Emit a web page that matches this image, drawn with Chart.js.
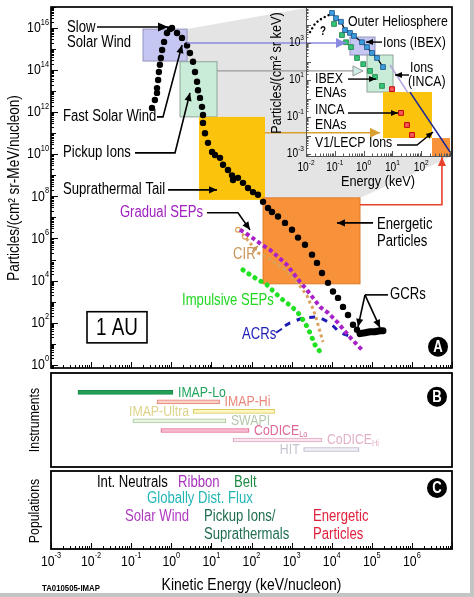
<!DOCTYPE html>
<html>
<head>
<meta charset="utf-8">
<script src="https://cdn.jsdelivr.net/npm/chart.js@4.4.0/dist/chart.umd.min.js"></script>
<style>
  html, body { margin: 0; padding: 0; background: #fff; }
  #wrap { position: relative; width: 474px; height: 597px; background: #fff; overflow: hidden; }
  #wrap canvas { position: absolute; left: 0; top: 0; }
  .edgeR { position: absolute; right: 0; top: 0; width: 4px; height: 597px; background: #c4c4c4; }
  .edgeB { position: absolute; left: 0; bottom: 0; width: 474px; height: 4px; background: #c4c4c4; }
</style>
</head>
<body>
<div id="wrap">
  <canvas id="cA" width="474" height="597"></canvas>
  <canvas id="cI" width="474" height="597"></canvas>
  <canvas id="cB" width="474" height="597"></canvas>
  <canvas id="cC" width="474" height="597"></canvas>
  <div class="edgeR"></div><div class="edgeB"></div>
</div>
<script>
// Tick labels (powers of ten)
const xTickExp = [-3, -2, -1, 0, 1, 2, 3, 4, 5, 6];
const yTickExp = [0, 2, 4, 6, 8, 10, 12, 14, 16];
const insetXTickExp = [-2, -1, 0, 1, 2];
const insetYTickExp = [-3, -1, 1, 3];

// Panel A: spectra at 1 AU, keV/nucleon vs particles/(cm2 sr MeV/nucleon)
const mainEnergy = [0.33, 0.39, 0.44, 0.44, 0.47, 0.49, 0.52, 0.55, 0.59, 0.66, 0.78, 0.93, 1.04,
  1.39, 1.85, 2.47, 2.92, 3.48, 3.90, 4.38, 4.63, 5.20, 5.83, 6.18, 6.18, 6.92, 8.22, 10.4, 12.3,
  16.4, 19.5, 25.9, 32.7, 34.6, 46.0, 61.4, 81.8, 109, 145, 194, 258, 324, 458, 684, 1023, 1445,
  2158, 3228, 4295, 5728, 8091, 10770, 14350, 19140, 25470, 33960, 42760];
const mainFlux = [1.6e12, 3.8e12, 8.3e12, 1.4e13, 3.4e13, 8.1e13, 1.8e14, 3.8e14, 9.1e14, 2.2e15, 5.8e15, 8.9e15, 1.0e16,
  5.8e15, 3.4e15, 1.5e15, 6.5e14, 2.5e14, 8.1e13, 2.8e13, 1.1e13, 4.8e12, 1.8e12, 7.4e11, 3.1e11, 1.0e11, 3.5e10, 1.3e10, 9.3e9,
  6.8e9, 3.2e9, 1.8e9, 1.0e9, 6.0e8, 7.6e8, 4.4e8, 2.5e8, 1.6e8, 1.2e8, 5.5e7, 2.8e7, 1.8e7, 1.1e7, 5.5e6, 2.6e6, 1.1e6,
  5.0e5, 1.7e5, 6.9e4, 2.3e4, 7.8e3, 3.0e3, 1.5e3, 560, 230, 79, 46];
const gcrEnergy = [50800, 67600, 90200, 120000, 160000, 190000];
const gcrFlux = [30, 33, 37, 37, 41, 41];
const gradualEnergy = [51.6, 81.8, 122, 183, 289, 458, 767, 1084, 1618, 2421, 3420, 5105, 8091, 14350, 25470, 42760, 57020];
const gradualFlux = [2.6e6, 1.5e6, 8.7e5, 5.0e5, 2.9e5, 1.35e5, 5.6e4, 2.3e4, 8.7e3, 3.6e3, 1.5e3, 560, 295, 98, 26, 8.9, 5.1];
const cirEnergy = [46.0, 68.9, 145, 258, 458, 813, 1216, 1816, 2421, 2877, 3420, 4295, 5105, 6067];
const cirFlux = [2.6e6, 1.2e6, 2.1e5, 1.2e5, 5.6e4, 2.6e4, 1.1e4, 4.1e3, 1.9e3, 870, 460, 123, 37, 12];
const impulsiveEnergy = [61.4, 91.8, 145, 243, 385, 611, 1023, 1445, 2158, 2877, 3828, 5105];
const impulsiveFlux = [3.2e4, 1.9e4, 1.1e4, 6.3e3, 2.6e3, 1.2e3, 560, 295, 98, 33, 8.9, 4.2];
const acrEnergy = [684, 912, 1923, 4550, 9080, 16100, 32060];
const acrFlux = [71, 98, 170, 190, 98, 33, 21];
// slow wind, fast wind, pickup/suprathermal, energetic particles
const mainBoxEnergy = [[0.197, 2.47], [1.65, 13.8], [4.9, 217], [194, 50800]];
const mainBoxFlux = [[2.7e14, 8.9e15], [6e11, 2.5e14], [6.8e7, 6e11], [7e3, 8.5e7]];

// Inset: outer heliosphere, keV vs particles/(cm2 sr keV)
const ibexIonEnergy = [0.080, 0.110, 0.164, 0.226, 0.337, 0.464, 0.88, 1.31, 1.96, 2.92, 4.72];
const ibexIonFlux = [4.2e4, 2.2e4, 1.4e4, 5.0e3, 3.5e3, 2.4e3, 1.1e3, 600, 290, 155, 50];
const unknownEnergy = [0.0138, 0.019, 0.028, 0.046, 0.074];
const unknownFlux = [3.9e3, 9.3e3, 1.7e4, 2.6e4, 3.7e4];
const ibexEnaEnergy = [0.094, 0.178, 0.245, 0.365, 0.59, 0.97, 1.67, 2.49, 4.35];
const ibexEnaFlux = [1.07e4, 2.7e3, 1.1e3, 600, 155, 72, 31, 14.5, 4.8];
const incaEnaEnergy = [9.7, 19.9, 32.1, 48];
const incaEnaFlux = [3.2, 0.166, 0.037, 0.0107];
const incaIonEnergy = [8.3, 34.8];
const incaIonFlux = [65, 2.0];
const lecpEnergy = [40.8, 1000];
const lecpFlux = [2.2, 0.0013];
const insetBoxEnergy = [[0.337, 2.49], [1.31, 10.5], [4.72, 237], [237, 1000]];
const insetBoxFlux = [[224, 2.1e3], [2.24, 224], [0.0073, 2.24], [7.8e-4, 0.0073]];

// Panel B: instrument energy ranges (keV)
const instNames = ['IMAP-Lo', 'IMAP-Hi', 'IMAP-Ultra', 'SWAPI', 'CoDICE', 'CoDICE', 'HIT'];
const instSub = ['', '', '', '', 'Lo', 'Hi', ''];
const instLow = [0.0047, 0.44, 3.5, 0.11, 0.55, 35, 2000];
const instHigh = [1.1, 16, 385, 23, 87, 5700, 48000];

// Panel C: populations, placed by energy
const popNames = ['Int. Neutrals', 'Ribbon', 'Belt', 'Globally Dist. Flux', 'Solar Wind', 'Pickup Ions/', 'Suprathermals', 'Energetic', 'Particles'];
const popEnergy = [0.014, 1.47, 36.6, 0.248, 0.070, 6.53, 6.53, 3420, 3420];
const popRow = [0.77, 0.77, 0.77, 1.79, 2.95, 2.95, 4.10, 2.95, 4.10];

// Styles
const mainBoxFill = ['#c6c6f3', '#c9ecd9', '#fcc30c', '#f7923b'];
const mainBoxEdge = ['#9494bc', '#8fa398', null, '#e07a28'];
const instFill = ['#21a056', '#fbd0c8', '#fff7c0', '#e9f5e2', '#f8bcd2', '#fbe6ef', '#f1f0f5'];
const instEdge = ['#1a8a48', '#e2806f', '#d9c95e', '#a9c79a', '#e0608c', '#e0a9c2', '#b6afc8'];
const instText = ['#22a35c', '#e8867a', '#ddd38a', '#b4c8ac', '#e0689a', '#e2b0c8', '#c6c4d0'];
const instSide = ['r', 'r', 'l', 'r', 'r', 'r', 'l'];
const popColor = ['#000', '#a832bc', '#1f8a45', '#22b6b4', '#b03cc0', '#1f6e50', '#1f6e50', '#e0203c', '#e0203c'];

// Plot rectangles on the 474x597 page
const AREA_A = { left: 51, top: 7, right: 452, bottom: 368 };
const AREA_I = { left: 306, top: 8, right: 450, bottom: 156 };
const AREA_B = { left: 51, top: 373, right: 452, bottom: 467 };
const AREA_C = { left: 51, top: 471, right: 452, bottom: 549 };

const L = v => Math.pow(10, v);
const pairs = (xs, ys) => xs.map((x, i) => ({ x, y: ys[i] }));

// Condensed font: use the narrow face if installed, else squeeze the regular one
function fontExists(name) {
  const c = document.createElement('canvas').getContext('2d');
  const s = 'Particles/(cm sr-MeV) WWmm';
  c.font = '40px monospace';
  const a = c.measureText(s).width;
  c.font = '40px "' + name + '", monospace';
  return Math.abs(c.measureText(s).width - a) > 1;
}
const NARROW = fontExists('Liberation Sans Narrow');
const FAM = NARROW ? '"Liberation Sans Narrow", sans-serif' : '"Liberation Sans", Arial, sans-serif';
const SQ = NARROW ? 1 : 0.82;

function setFont(ctx, size, bold) { ctx.font = (bold ? 'bold ' : '') + size + 'px ' + FAM; }
function textW(ctx, s, size, bold) { setFont(ctx, size, bold); return ctx.measureText(s).width * SQ; }
function text(ctx, s, x, y, o = {}) {
  ctx.save();
  ctx.translate(x, y);
  if (o.rot) ctx.rotate(o.rot);
  ctx.scale(SQ, 1);
  setFont(ctx, o.size || 16, o.bold);
  ctx.fillStyle = o.color || '#000';
  ctx.textAlign = o.align || 'left';
  ctx.textBaseline = 'middle';
  ctx.fillText(s, 0, 0);
  ctx.restore();
}
function pow10(ctx, e, x, y, size, align) {
  const es = Math.round(size * 0.6), s = String(e);
  const wb = textW(ctx, '10', size), we = textW(ctx, s, es);
  let x0 = x;
  if (align === 'right') x0 = x - wb - we;
  if (align === 'center') x0 = x - (wb + we) / 2;
  text(ctx, '10', x0, y, { size });
  text(ctx, s, x0 + wb, y - size * 0.4, { size: es });
}
function arrow(ctx, pts, o = {}) {
  ctx.save();
  ctx.strokeStyle = o.color || '#000';
  ctx.fillStyle = o.color || '#000';
  ctx.lineWidth = o.width || 1.6;
  ctx.beginPath();
  pts.forEach((p, i) => i ? ctx.lineTo(p[0], p[1]) : ctx.moveTo(p[0], p[1]));
  ctx.stroke();
  if (o.head !== false) {
    const [x1, y1] = pts[pts.length - 2], [x2, y2] = pts[pts.length - 1];
    const a = Math.atan2(y2 - y1, x2 - x1), h = o.len || 8, w = o.hw || 3.6;
    ctx.beginPath();
    ctx.moveTo(x2, y2);
    ctx.lineTo(x2 - h * Math.cos(a) + w * Math.sin(a), y2 - h * Math.sin(a) - w * Math.cos(a));
    ctx.lineTo(x2 - h * Math.cos(a) - w * Math.sin(a), y2 - h * Math.sin(a) + w * Math.cos(a));
    ctx.closePath();
    if (o.fill) { ctx.fillStyle = o.fill; ctx.lineWidth = 1; ctx.fill(); ctx.stroke(); } else ctx.fill();
  }
  ctx.restore();
}
function logTicks(min, max) {
  const out = [];
  for (let e = Math.floor(Math.log10(min)); e <= Math.ceil(Math.log10(max)); e++) {
    for (let k = 1; k < 10; k++) {
      const v = k * Math.pow(10, e);
      if (v >= min * 0.999 && v <= max * 1.001) out.push({ v, major: k === 1, e });
    }
  }
  return out;
}
function frame(ctx, a, w) {
  ctx.save();
  ctx.strokeStyle = '#000';
  ctx.lineWidth = w || 1.7;
  ctx.strokeRect(a.left, a.top, a.right - a.left, a.bottom - a.top);
  ctx.restore();
}
function badge(ctx, x, y, ch) {
  ctx.save();
  ctx.beginPath();
  ctx.arc(x, y, 10, 0, 2 * Math.PI);
  ctx.fillStyle = '#000';
  ctx.fill();
  ctx.restore();
  text(ctx, ch, x, y + 1, { size: 16, bold: true, color: '#fff', align: 'center' });
}
function bottomTicks(ctx, chart, y) {
  const sx = chart.scales.x;
  ctx.save();
  ctx.strokeStyle = '#000';
  ctx.lineWidth = 1;
  logTicks(sx.min, sx.max).forEach(t => {
    const x = Math.round(sx.getPixelForValue(t.v)) + 0.5;
    ctx.beginPath(); ctx.moveTo(x, y); ctx.lineTo(x, y - (t.major ? 6 : 3)); ctx.stroke();
  });
  ctx.restore();
}
function options(area, xs, ys, extra) {
  return Object.assign({
    responsive: false,
    animation: false,
    devicePixelRatio: 1,
    events: [],
    layout: { padding: { left: area.left, top: area.top, right: 474 - area.right, bottom: 597 - area.bottom } },
    plugins: { legend: { display: false }, tooltip: { enabled: false }, colors: { enabled: false } },
    scales: { x: Object.assign({ display: false }, xs), y: Object.assign({ display: false }, ys) }
  }, extra || {});
}

// Annotation text and arrows of panel A, in log10 (energy, flux)
const mainLabels = [
  { t: 'Slow', p: [-2.601, 16.0] },
  { t: 'Solar Wind', p: [-2.601, 15.29] },
  { t: 'Fast Solar Wind', p: [-2.701, 11.78] },
  { t: 'Pickup Ions', p: [-2.701, 10.07] },
  { t: 'Suprathermal Tail', p: [-2.701, 8.31] },
  { t: 'Gradual SEPs', p: [0.791, 7.22], c: '#a020c0', al: 'right' },
  { t: 'CIR', p: [1.539, 5.22], c: '#c8965a' },
  { t: 'Impulsive SEPs', p: [0.267, 3.04], c: '#22d822' },
  { t: 'ACRs', p: [1.763, 1.42], c: '#1c1cb4' },
  { t: 'GCRs', p: [5.454, 3.32] },
  { t: 'Energetic', p: [5.130, 6.65] },
  { t: 'Particles', p: [5.130, 5.84] }
];
const mainArrows = [
  { p: [[-1.853, 16.05], [-0.082, 16.05]], len: 10, hw: 4.5 },
  { p: [[-0.357, 11.78], [-0.207, 11.78], [0.267, 15.19]] },
  { p: [[-0.905, 10.07], [0.092, 10.07], [0.466, 12.92]] },
  { p: [[-0.082, 8.31], [1.140, 8.31]] },
  { p: [[0.890, 7.22], [1.663, 7.22], [1.963, 6.41]] },
  { p: [[5.030, 6.74], [4.132, 6.74]] },
  { p: [[5.404, 3.32], [4.830, 3.32]], head: false },
  { p: [[4.830, 3.32], [4.656, 1.80]] },
  { p: [[4.830, 3.32], [5.204, 1.76]] },
  { p: [[2.012, 5.37], [2.162, 5.65]], c: '#c8965a', len: 5, hw: 2.5, w: 1.2 },
  { p: [[2.611, 1.52], [2.761, 1.71]], c: '#1c1cb4', head: false, w: 2 }
];

const mainDecor = {
  id: 'mainDecor',
  beforeDatasetsDraw(chart) {
    const ctx = chart.ctx, a = chart.chartArea;
    const X = v => chart.scales.x.getPixelForValue(v), Y = v => chart.scales.y.getPixelForValue(v);
    // grey projection from the boxes to the inset
    ctx.save();
    ctx.beginPath();
    ctx.moveTo(X(mainBoxEnergy[0][1]), Y(mainBoxFlux[0][1]));
    ctx.lineTo(AREA_I.left, AREA_I.top);
    ctx.lineTo(a.right, AREA_I.top);
    ctx.lineTo(a.right, AREA_I.bottom);
    ctx.lineTo(X(mainBoxEnergy[3][1]), Y(mainBoxFlux[3][1]));
    ctx.lineTo(X(mainBoxEnergy[3][0]), Y(mainBoxFlux[3][1]));
    ctx.lineTo(X(mainBoxEnergy[0][1]), Y(mainBoxFlux[0][0]));
    ctx.closePath();
    ctx.fillStyle = '#e4e4e4';
    ctx.fill();
    mainBoxEnergy.forEach((e, i) => {
      const x0 = X(e[0]), x1 = X(e[1]), y0 = Y(mainBoxFlux[i][1]), y1 = Y(mainBoxFlux[i][0]);
      ctx.fillStyle = mainBoxFill[i];
      ctx.fillRect(x0, y0, x1 - x0, y1 - y0);
      if (mainBoxEdge[i]) {
        ctx.strokeStyle = mainBoxEdge[i];
        ctx.lineWidth = 1;
        ctx.strokeRect(x0, y0, x1 - x0, y1 - y0);
      }
    });
    ctx.restore();
  },
  afterDatasetsDraw(chart) {
    const ctx = chart.ctx, a = chart.chartArea, sy = chart.scales.y;
    const X = v => chart.scales.x.getPixelForValue(v), Y = v => sy.getPixelForValue(v);
    frame(ctx, a);
    // inward ticks on the left and bottom
    ctx.save();
    ctx.strokeStyle = '#000';
    ctx.lineWidth = 1;
    logTicks(sy.min, sy.max).forEach(t => {
      const y = Math.round(Y(t.v)) + 0.5;
      const len = t.major ? (t.e % 2 === 0 ? 7 : 5) : 3;
      ctx.beginPath(); ctx.moveTo(a.left, y); ctx.lineTo(a.left + len, y); ctx.stroke();
    });
    ctx.restore();
    bottomTicks(ctx, chart, a.bottom);
    yTickExp.forEach(e => pow10(ctx, e, a.left - 2, Y(L(e)), 15, 'right'));
    text(ctx, 'Particles/(cm\u00B2 sr-MeV/nucleon)', 14, 188, { size: 16.5, rot: -Math.PI / 2, align: 'center' });

    mainLabels.forEach(l => text(ctx, l.t, X(L(l.p[0])), Y(L(l.p[1])), { size: 16, color: l.c, align: l.al }));
    mainArrows.forEach(r => arrow(ctx, r.p.map(q => [X(L(q[0])), Y(L(q[1]))]),
      { color: r.c, head: r.head, len: r.len, hw: r.hw, width: r.w }));

    // "1 AU" box and panel letter
    const bx0 = X(L(-2.102)), bx1 = X(L(-0.606)), by0 = Y(L(2.52)), by1 = Y(L(1.04));
    ctx.save();
    ctx.strokeStyle = '#000';
    ctx.lineWidth = 1.6;
    ctx.strokeRect(bx0, by0, bx1 - bx0, by1 - by0);
    ctx.restore();
    text(ctx, '1 AU', (bx0 + bx1) / 2, (by0 + by1) / 2 + 1, { size: 23, align: 'center' });
    badge(ctx, X(L(6.651)), Y(L(0.855)), 'A');
  }
};

const mainChart = new Chart(document.getElementById('cA'), {
  type: 'scatter',
  data: {
    datasets: [
      { data: pairs(mainEnergy, mainFlux), pointRadius: 3.2, backgroundColor: '#000', borderColor: '#000', borderWidth: 0 },
      { data: pairs(gcrEnergy, gcrFlux), showLine: true, borderColor: '#000', borderWidth: 7, borderCapStyle: 'round', pointRadius: 0 },
      { data: pairs(gradualEnergy, gradualFlux), showLine: true, borderColor: '#a820c8', borderWidth: 4, borderDash: [4, 3], pointRadius: 0 },
      { data: pairs(cirEnergy, cirFlux), showLine: true, borderColor: '#d9a25e', borderWidth: 3, borderDash: [3, 3],
        pointRadius: c => c.dataIndex < 2 ? 2.4 : 0, pointBackgroundColor: '#fff', pointBorderColor: '#d9a25e', pointBorderWidth: 1.2 },
      { data: pairs(impulsiveEnergy, impulsiveFlux), showLine: true, borderColor: '#22e022', borderWidth: 5,
        borderDash: [0.1, 7], borderCapStyle: 'round', pointRadius: 0 },
      { data: pairs(acrEnergy, acrFlux), showLine: true, borderColor: '#1c1cb4', borderWidth: 3, borderDash: [6, 7], pointRadius: 0 }
    ]
  },
  options: options(AREA_A, { type: 'logarithmic', min: 1e-3, max: 1e7 }, { type: 'logarithmic', min: 0.72, max: 1e17 }),
  plugins: [mainDecor]
});

// Inset annotations, in log10 (energy, flux)
const insetLabels = [
  { t: 'Outer Heliosphere', p: [-0.542, 4.14] },
  { t: 'Ions (IBEX)', p: [0.674, 3.0] },
  { t: 'Ions', p: [1.611, 1.65] },
  { t: '(INCA)', p: [1.542, 0.89] },
  { t: 'IBEX', p: [-1.688, 1.05] },
  { t: 'ENAs', p: [-1.688, 0.30] },
  { t: 'INCA', p: [-1.688, -0.62] },
  { t: 'ENAs', p: [-1.688, -1.43] },
  { t: 'V1/LECP Ions', p: [-1.688, -2.41] },
  { t: '?', p: [-1.514, 3.59], b: true, s: 12 }
];
const insetArrows = [
  [[0.639, 3.05], [0.083, 3.05]],
  [[1.576, 1.27], [1.09, 1.27]],
  [[-0.542, 1.05], [0.431, 1.05]],
  [[-0.542, -0.78], [1.194, -0.78]],
  [[1.16, -2.51], [1.854, -2.51], [2.41, -1.81]]
];

const insetDecor = {
  id: 'insetDecor',
  beforeDatasetsDraw(chart) {
    const ctx = chart.ctx, a = chart.chartArea;
    const X = v => chart.scales.x.getPixelForValue(v), Y = v => chart.scales.y.getPixelForValue(v);
    ctx.save();
    ctx.fillStyle = '#fff';
    ctx.fillRect(a.left, a.top, a.right - a.left + 1, a.bottom - a.top);
    insetBoxEnergy.forEach((e, i) => {
      const x0 = X(e[0]), x1 = X(e[1]), y0 = Y(insetBoxFlux[i][1]), y1 = Y(insetBoxFlux[i][0]);
      ctx.fillStyle = mainBoxFill[i];
      ctx.fillRect(x0, y0, x1 - x0, y1 - y0);
      if (mainBoxEdge[i] && i < 2) {
        ctx.strokeStyle = mainBoxEdge[i];
        ctx.lineWidth = 1;
        ctx.strokeRect(x0, y0, x1 - x0, y1 - y0);
      }
    });
    ctx.restore();
  },
  afterDatasetsDraw(chart) {
    const ctx = chart.ctx, a = chart.chartArea, sx = chart.scales.x, sy = chart.scales.y;
    const X = v => sx.getPixelForValue(v), Y = v => sy.getPixelForValue(v);
    const mX = v => mainChart.scales.x.getPixelForValue(v), mY = v => mainChart.scales.y.getPixelForValue(v);

    // connectors from the 1 AU boxes into the inset
    arrow(ctx, [[mX(mainBoxEnergy[0][1]), Y(1e3)], [X(insetBoxEnergy[0][0]) - 4, Y(1e3)]],
      { color: '#8a8ae2', width: 1.6, len: 10, hw: 5 });
    arrow(ctx, [[mX(mainBoxEnergy[1][1]), Y(31)], [X(insetBoxEnergy[1][0]) - 4, Y(31)]],
      { color: '#9a9a9a', width: 1.3, len: 10, hw: 5, fill: '#cdeee6' });
    arrow(ctx, [[mX(mainBoxEnergy[2][1]), Y(0.014)], [X(insetBoxEnergy[2][0]) - 3, Y(0.014)]],
      { color: '#d8a030', width: 1.6, len: 10, hw: 5 });
    const ry = mY(L(7.6)), rx = X(525);
    arrow(ctx, [[mX(mainBoxEnergy[3][1]), ry], [rx, ry], [rx, a.bottom + 1]],
      { color: '#e8402a', width: 1.6, len: 9, hw: 4 });

    // inset axes
    ctx.save();
    ctx.strokeStyle = '#555';
    ctx.lineWidth = 1;
    ctx.beginPath();
    ctx.moveTo(a.left + 0.5, a.top); ctx.lineTo(a.left + 0.5, a.bottom + 0.5); ctx.lineTo(a.right + 2, a.bottom + 0.5);
    ctx.stroke();
    logTicks(sy.min, sy.max).forEach(t => {
      const y = Math.round(Y(t.v)) + 0.5;
      ctx.beginPath(); ctx.moveTo(a.left, y); ctx.lineTo(a.left + (t.major ? 5 : 2.5), y); ctx.stroke();
    });
    logTicks(sx.min, sx.max).forEach(t => {
      const x = Math.round(X(t.v)) + 0.5;
      ctx.beginPath(); ctx.moveTo(x, a.bottom); ctx.lineTo(x, a.bottom - (t.major ? 5 : 2.5)); ctx.stroke();
    });
    ctx.restore();
    insetYTickExp.forEach(e => pow10(ctx, e, a.left - 2, Y(L(e)), 12.5, 'right'));
    insetXTickExp.forEach(e => pow10(ctx, e, X(L(e)), a.bottom + 12, 12.5, 'center'));
    text(ctx, 'Particles/(cm\u00B2 sr keV)', a.left - 29, 73, { size: 15.5, rot: -Math.PI / 2, align: 'center' });
    text(ctx, 'Energy (keV)', (a.left + a.right) / 2, a.bottom + 26, { size: 15.5, align: 'center' });

    insetLabels.forEach(l => text(ctx, l.t, X(L(l.p[0])), Y(L(l.p[1])), { size: l.s || 15, bold: l.b }));
    insetArrows.forEach(p => arrow(ctx, p.map(q => [X(L(q[0])), Y(L(q[1]))]), { width: 1.4, len: 7, hw: 3 }));
  }
};

const insetChart = new Chart(document.getElementById('cI'), {
  type: 'scatter',
  data: {
    datasets: [
      { data: pairs(ibexIonEnergy, ibexIonFlux), showLine: true, borderColor: '#000', borderWidth: 1.3,
        pointStyle: 'rect', pointRadius: 3.4, pointBackgroundColor: '#3a9ede', pointBorderColor: '#1b4f86', pointBorderWidth: 0.8 },
      { data: pairs(unknownEnergy, unknownFlux), showLine: true, borderColor: '#000', borderWidth: 2.4,
        borderDash: [0.1, 4.2], borderCapStyle: 'round', pointRadius: 0 },
      { data: pairs(ibexEnaEnergy, ibexEnaFlux), pointStyle: 'rect', pointRadius: 3.4,
        pointBackgroundColor: '#36c37a', pointBorderColor: '#16803e', pointBorderWidth: 0.8 },
      { data: pairs(incaEnaEnergy, incaEnaFlux), pointStyle: 'rect', pointRadius: 3.4,
        pointBackgroundColor: '#f35a5a', pointBorderColor: '#c40000', pointBorderWidth: 1 },
      { data: pairs(incaIonEnergy, incaIonFlux), showLine: true, borderColor: '#b4a6dc', borderWidth: 1.6, pointRadius: 0 },
      { data: pairs(lecpEnergy, lecpFlux), showLine: true, borderColor: '#1b2896', borderWidth: 1.6, pointRadius: 0 }
    ]
  },
  options: options(AREA_I, { type: 'logarithmic', min: 0.01, max: 1000 }, { type: 'logarithmic', min: 7.8e-4, max: 7.8e4 }),
  plugins: [insetDecor]
});

// Panel B: instruments
const instDecor = {
  id: 'instDecor',
  afterDatasetsDraw(chart) {
    const ctx = chart.ctx, a = chart.chartArea;
    const X = v => chart.scales.x.getPixelForValue(v), Y = v => chart.scales.y.getPixelForValue(v);
    frame(ctx, a, 1.8);
    instNames.forEach((n, i) => {
      const right = instSide[i] === 'r';
      const wMain = textW(ctx, n, 15), wSub = instSub[i] ? textW(ctx, instSub[i], 9) : 0;
      const x0 = right ? X(instHigh[i]) + 5 : X(instLow[i]) - 4 - wMain - wSub;
      text(ctx, n, x0, Y(i), { size: 15, color: instText[i] });
      if (instSub[i]) text(ctx, instSub[i], x0 + wMain, Y(i) + 4, { size: 9, color: instText[i] });
    });
    text(ctx, 'Instruments', 35, (a.top + a.bottom) / 2, { size: 15, rot: -Math.PI / 2, align: 'center' });
    badge(ctx, X(L(6.626)), Y(0.457), 'B');
  }
};

new Chart(document.getElementById('cB'), {
  type: 'bar',
  data: {
    datasets: [{
      data: instNames.map((n, i) => ({ x: [instLow[i], instHigh[i]], y: i })),
      backgroundColor: instFill, borderColor: instEdge, borderWidth: 1, borderSkipped: false, barThickness: 4
    }]
  },
  options: options(AREA_B, { type: 'logarithmic', min: 1e-3, max: 1e7 }, { type: 'linear', min: -0.8, max: 6.6, reverse: true }, { indexAxis: 'y' }),
  plugins: [instDecor]
});

// Panel C: populations and the shared energy axis
const popDecor = {
  id: 'popDecor',
  afterDatasetsDraw(chart) {
    const ctx = chart.ctx, a = chart.chartArea;
    const X = v => chart.scales.x.getPixelForValue(v), Y = v => chart.scales.y.getPixelForValue(v);
    frame(ctx, a, 1.8);
    bottomTicks(ctx, chart, a.bottom);
    popNames.forEach((n, i) => text(ctx, n, X(popEnergy[i]), Y(popRow[i]), { size: 16, color: popColor[i] }));
    text(ctx, 'Populations', 35, (a.top + a.bottom) / 2 + 1, { size: 15, rot: -Math.PI / 2, align: 'center' });
    badge(ctx, X(L(6.626)), Y(1.09), 'C');
    xTickExp.forEach(e => pow10(ctx, e, X(L(e)), a.bottom + 13, 15, 'center'));
    text(ctx, 'Kinetic Energy (keV/nucleon)', (a.left + a.right) / 2, 585, { size: 17, align: 'center' });
    text(ctx, 'TA010505-IMAP', 42, 588, { size: 9.5, bold: true });
  }
};

new Chart(document.getElementById('cC'), {
  type: 'scatter',
  data: { datasets: [{ data: [] }] },
  options: options(AREA_C, { type: 'logarithmic', min: 1e-3, max: 1e7 }, { type: 'linear', min: 0, max: 5, reverse: true }),
  plugins: [popDecor]
});
</script>
</body>
</html>
